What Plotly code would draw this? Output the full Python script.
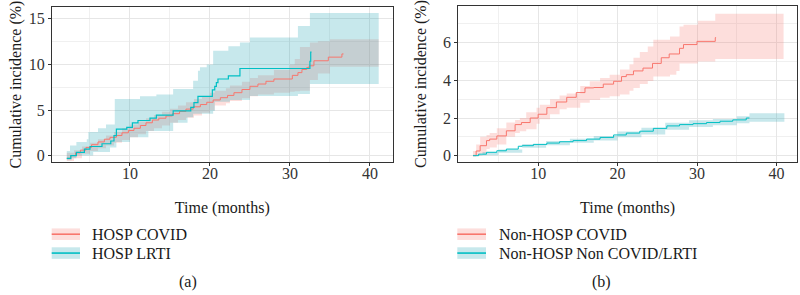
import plotly.graph_objects as go

# ---------------- Panel (a): hospitalised ----------------
a_covid_t = [2.1, 2.6, 3.2, 3.8, 4.5, 5.2, 6.0, 6.8, 7.5, 8.3, 9.0, 9.8, 10.5, 11.3, 12.0, 12.8, 13.6, 14.5,
             15.3, 16.2, 17.0, 17.9, 18.8, 19.6, 20.4, 21.3, 22.2, 23.0, 24.0, 25.0, 26.0, 27.0, 28.0, 30.3,
             31.0, 31.5, 32.1, 32.4, 33.0, 34.8, 36.5, 36.7]
a_covid_y = [-0.3, 0.0, 0.3, 0.6, 0.9, 1.2, 1.5, 1.8, 2.0, 2.2, 2.5, 2.75, 3.0, 3.3, 3.6, 3.9, 4.1, 4.35,
             4.6, 4.85, 5.1, 5.35, 5.6, 5.85, 6.1, 6.35, 6.6, 6.9, 7.25, 7.6, 7.85, 8.15, 8.4, 8.8,
             9.1, 9.45, 9.65, 9.85, 10.4, 10.8, 11.15, 11.15]
a_covid_band_t = [2.1, 3.0, 4.0, 5.0, 6.0, 7.0, 8.0, 9.0, 10.0, 11.0, 12.0, 13.0, 14.0, 15.0, 16.0, 17.0, 18.0,
                  19.0, 20.0, 20.6, 22.0, 22.5, 24.0, 25.0, 26.0, 28.0, 30.0, 30.6, 31.25, 32.5, 33.5, 35.0, 41.1]
a_covid_lo = [-0.6, -0.3, 0.2, 0.5, 0.8, 1.1, 1.4, 1.7, 2.0, 2.35, 2.7, 3.0, 3.3, 3.6, 3.9, 4.15, 4.4,
              4.7, 5.0, 5.5, 5.75, 6.0, 6.3, 6.5, 6.7, 6.9, 7.0, 7.05, 7.1, 8.3, 9.0, 9.75, 9.75]
a_covid_hi = [0.3, 0.6, 1.0, 1.4, 1.8, 2.2, 2.6, 3.0, 3.4, 3.75, 4.1, 4.45, 4.8, 5.15, 5.5, 5.85, 6.2,
              6.55, 6.9, 7.1, 7.4, 7.7, 8.1, 8.5, 8.8, 9.4, 10.0, 10.6, 11.9, 12.4, 12.55, 12.75, 12.75]

a_lrti_t = [2.1, 2.6, 3.3, 4.3, 5.0, 6.5, 7.6, 8.0, 8.3, 9.6, 10.3, 11.0, 12.5, 13.3, 15.4, 17.6, 18.0,
            18.5, 20.3, 20.6, 20.8, 21.0, 22.3, 23.75, 32.5, 32.6, 32.7]
a_lrti_y = [-0.3, 0.0, 0.35, 0.7, 1.0, 1.3, 1.6, 2.2, 2.9, 3.1, 3.6, 3.85, 4.1, 4.45, 4.9, 5.3, 5.8,
            6.5, 7.2, 7.6, 8.0, 8.4, 8.75, 9.55, 10.35, 11.35, 11.35]
a_lrti_band_t = [2.1, 2.5, 2.7, 3.3, 4.6, 4.8, 5.4, 6.0, 7.0, 7.5, 8.1, 8.3, 10.0, 11.25, 12.3, 13.3,
                 15.4, 17.2, 17.9, 18.5, 18.75, 19.6, 20.4, 20.6, 22.3, 22.5, 23.75, 25.0, 31.0, 32.5, 41.1]
a_lrti_lo = [-0.5, -0.5, -0.3, 0.0, 0.0, 0.0, 0.4, 0.4, 0.4, 0.9, 0.9, 1.5, 2.0, 2.0, 2.7, 2.7,
             3.6, 4.2, 4.6, 4.6, 4.6, 4.6, 4.9, 5.9, 5.9, 6.1, 6.1, 6.55, 6.75, 7.85, 7.85]
a_lrti_hi = [0.5, 1.1, 1.1, 1.5, 1.8, 2.6, 2.6, 3.0, 3.4, 3.4, 6.2, 6.2, 6.2, 6.5, 6.5, 6.7,
             7.3, 7.3, 8.2, 9.3, 9.7, 10.0, 11.5, 11.5, 12.0, 12.0, 12.4, 12.95, 14.2, 15.65, 15.65]

# ---------------- Panel (b): non-hospitalised ----------------
b_covid_t = [1.8, 2.2, 2.7, 3.5, 3.9, 4.8, 6.0, 7.1, 7.9, 9.0, 10.0, 11.1, 12.3, 13.6, 14.8, 15.9, 17.0,
             18.2, 19.5, 20.5, 21.1, 22.0, 23.2, 24.4, 25.5, 26.5, 27.8, 28.3, 30.0, 32.3, 32.4]
b_covid_y = [0.0, 0.25, 0.53, 0.8, 0.88, 1.05, 1.32, 1.65, 1.76, 2.0, 2.2, 2.55, 2.85, 3.1, 3.35, 3.6, 3.62,
             3.8, 3.95, 4.2, 4.3, 4.5, 4.65, 4.9, 5.2, 5.4, 5.7, 5.9, 6.07, 6.27, 6.27]
b_covid_band_t = [1.8, 2.2, 2.7, 3.5, 3.9, 4.8, 6.0, 7.1, 7.7, 8.5, 9.8, 10.2, 11.5, 12.7, 13.6, 15.3, 16.5,
                  17.8, 19.0, 20.3, 21.5, 22.0, 22.8, 23.8, 24.5, 26.6, 27.4, 27.8, 28.3, 30.1, 32.3, 40.9]
b_covid_lo = [0.0, 0.0, 0.1, 0.35, 0.44, 0.6, 1.0, 1.2, 1.3, 1.4, 1.7, 1.93, 2.2, 2.46, 2.55, 2.81, 2.95,
              3.08, 3.15, 3.25, 3.45, 3.6, 3.8, 3.96, 4.2, 4.3, 4.49, 4.9, 4.9, 5.0, 5.14, 5.14]
b_covid_hi = [0.25, 0.6, 1.0, 1.1, 1.2, 1.45, 1.76, 1.9, 2.0, 2.3, 2.55, 2.7, 3.0, 3.2, 3.3, 3.7, 3.95,
              4.13, 4.3, 4.57, 4.85, 5.2, 5.5, 5.8, 6.15, 6.33, 6.33, 6.86, 6.95, 7.17, 7.53, 7.53]

b_other_t = [1.8, 2.5, 3.5, 4.8, 6.0, 7.5, 8.0, 9.4, 11.1, 12.7, 14.4, 16.1, 17.8, 19.5, 21.1, 22.8, 24.5,
             26.2, 27.8, 29.5, 31.2, 32.9, 34.5, 36.2, 36.6]
b_other_y = [0.0, 0.08, 0.18, 0.26, 0.35, 0.5, 0.53, 0.6, 0.67, 0.74, 0.8, 0.88, 0.97, 1.1, 1.2, 1.3, 1.45,
             1.58, 1.65, 1.7, 1.76, 1.83, 1.9, 2.0, 2.0]
b_other_band_t = [1.8, 3.0, 5.0, 8.0, 11.0, 14.0, 17.0, 20.0, 23.0, 26.0, 29.0, 32.0, 35.0, 36.6, 41.0]
b_other_lo = [0.0, 0.02, 0.15, 0.42, 0.55, 0.68, 0.8, 0.98, 1.12, 1.38, 1.52, 1.62, 1.72, 1.8, 1.8]
b_other_hi = [0.05, 0.2, 0.33, 0.62, 0.78, 0.9, 1.05, 1.28, 1.48, 1.75, 1.88, 1.95, 2.1, 2.25, 2.25]

legend_a = ["HOSP COVID", "HOSP LRTI"]
legend_b = ["Non-HOSP COVID", "Non-HOSP Non COVID/LRTI"]
captions = ["(a)", "(b)"]
axis_x_title = "Time (months)"
axis_y_title = "Cumulative incidence (%)"

RED = "#F8766D"
TEAL = "#00BFC4"
RED_FILL = "rgba(248,118,109,0.24)"
TEAL_FILL = "rgba(30,165,180,0.25)"
FONT = "Liberation Serif"
W, H = 800, 295

fig = go.Figure()


def add_band(t, lo, hi, fill, xa, ya):
    fig.add_trace(go.Scatter(x=t, y=lo, mode="lines", line=dict(width=0, shape="hv"),
                             hoverinfo="skip", showlegend=False, xaxis=xa, yaxis=ya))
    fig.add_trace(go.Scatter(x=t, y=hi, mode="lines", line=dict(width=0, shape="hv"),
                             fill="tonexty", fillcolor=fill, hoverinfo="skip",
                             showlegend=False, xaxis=xa, yaxis=ya))


def add_line(t, y, color, name, xa, ya, width):
    fig.add_trace(go.Scatter(x=t, y=y, mode="lines", name=name,
                             line=dict(color=color, width=width, shape="hv"),
                             showlegend=False, xaxis=xa, yaxis=ya))


add_band(a_covid_band_t, a_covid_lo, a_covid_hi, RED_FILL, "x", "y")
add_band(a_lrti_band_t, a_lrti_lo, a_lrti_hi, TEAL_FILL, "x", "y")
add_line(a_covid_t, a_covid_y, RED, legend_a[0], "x", "y", 1.0)
add_line(a_lrti_t, a_lrti_y, TEAL, legend_a[1], "x", "y", 1.2)

add_band(b_covid_band_t, b_covid_lo, b_covid_hi, RED_FILL, "x2", "y2")
add_band(b_other_band_t, b_other_lo, b_other_hi, TEAL_FILL, "x2", "y2")
add_line(b_covid_t, b_covid_y, RED, legend_b[0], "x2", "y2", 1.0)
add_line(b_other_t, b_other_y, TEAL, legend_b[1], "x2", "y2", 1.0)

axis_common = dict(showline=True, mirror=True, linecolor="#333333", linewidth=1,
                   ticks="outside", ticklen=3, tickcolor="#333333", tickwidth=1,
                   showgrid=True, gridcolor="#E6E6E6", gridwidth=1, zeroline=False,
                   tickfont=dict(family=FONT, size=16, color="#333333"))
title_font = dict(family=FONT, size=16, color="#1a1a1a")

fig.update_layout(
    width=W, height=H, margin=dict(l=0, r=0, t=0, b=0),
    plot_bgcolor="white", paper_bgcolor="white", showlegend=False,
    font=dict(family=FONT, size=16, color="#1a1a1a"),
    xaxis=dict(domain=[52 / W, 392.7 / W], range=[0.25, 42.85], tickvals=[10, 20, 30, 40],
               minor=dict(tickvals=[5, 15, 25, 35], showgrid=True, gridcolor="#F0F0F0", ticks=""),
               title=dict(text=axis_x_title, font=title_font, standoff=20), ticklabelstandoff=-6,
               anchor="y", **axis_common),
    yaxis=dict(domain=[1 - 163 / H, 1 - 7.3 / H], range=[-0.69, 16.27], tickvals=[0, 5, 10, 15],
               minor=dict(tickvals=[2.5, 7.5, 12.5], showgrid=True, gridcolor="#F0F0F0", ticks=""),
               title=dict(text=axis_y_title, font=title_font, standoff=3),
               anchor="x", **axis_common),
    xaxis2=dict(domain=[458.3 / W, 796.7 / W], range=[-0.05, 42.55], tickvals=[10, 20, 30, 40],
                minor=dict(tickvals=[5, 15, 25, 35], showgrid=True, gridcolor="#F0F0F0", ticks=""),
                title=dict(text=axis_x_title, font=title_font, standoff=20), ticklabelstandoff=-6,
                anchor="y2", **axis_common),
    yaxis2=dict(domain=[1 - 163 / H, 1 - 6 / H], range=[-0.33, 7.95], tickvals=[0, 2, 4, 6],
                minor=dict(tickvals=[1, 3, 5, 7], showgrid=True, gridcolor="#F0F0F0", ticks=""),
                title=dict(text=axis_y_title, font=title_font, standoff=12),
                anchor="x2", **axis_common),
)

# Legends (ggplot-style keys: ribbon box with line through the middle)
shapes = []
annotations = []
legend_specs = [
    (legend_a, [(RED, RED_FILL), (TEAL, TEAL_FILL)], 51.7, 80.0, 90.0),
    (legend_b, [(RED, RED_FILL), (TEAL, TEAL_FILL)], 457.3, 486.0, 496.5),
]
row_centres = [235.8, 254.8]
for labels, cols, kx0, kx1, tx in legend_specs:
    for lab, (lc, fc), yc in zip(labels, cols, row_centres):
        shapes.append(dict(type="rect", xref="paper", yref="paper",
                           x0=kx0 / W, x1=kx1 / W, y0=1 - (yc + 5.8) / H, y1=1 - (yc - 5.8) / H,
                           fillcolor=fc, line=dict(width=0), layer="above"))
        shapes.append(dict(type="line", xref="paper", yref="paper",
                           x0=kx0 / W, x1=kx1 / W, y0=1 - yc / H, y1=1 - yc / H,
                           line=dict(color=lc, width=1.6), layer="above"))
        annotations.append(dict(text=lab, xref="paper", yref="paper", x=tx / W, y=1 - yc / H,
                                xanchor="left", yanchor="middle", showarrow=False,
                                font=dict(family=FONT, size=16, color="#1a1a1a")))

for cap, cx in zip(captions, [188, 601]):
    annotations.append(dict(text=cap, xref="paper", yref="paper", x=cx / W, y=1 - 283.5 / H,
                            xanchor="center", yanchor="middle", showarrow=False,
                            font=dict(family=FONT, size=16, color="#1a1a1a")))

fig.update_layout(shapes=shapes, annotations=annotations)
fig.write_html("out.html", config={"displayModeBar": False},
               post_script="document.body.style.margin='0';document.body.style.overflow='hidden';")
